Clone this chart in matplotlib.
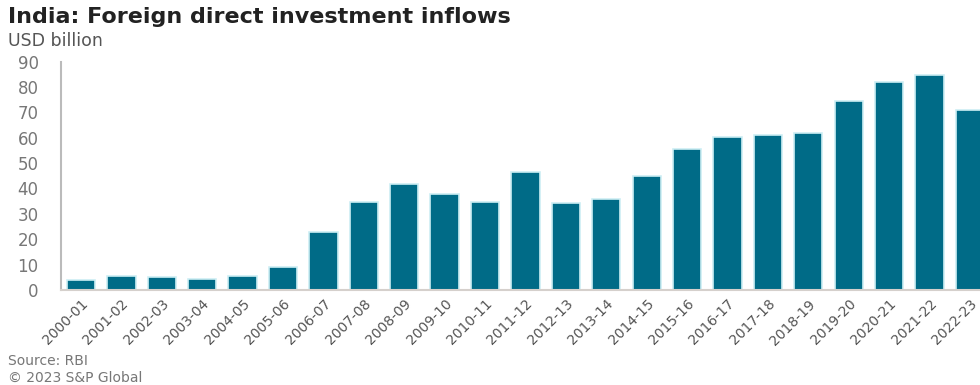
import matplotlib.pyplot as plt
import numpy as np

# Entradas de IED en India por año fiscal (miles de millones de USD)
anios = ['2000-01', '2001-02', '2002-03', '2003-04', '2004-05', '2005-06',
         '2006-07', '2007-08', '2008-09', '2009-10', '2010-11', '2011-12',
         '2012-13', '2013-14', '2014-15', '2015-16', '2016-17', '2017-18',
         '2018-19', '2019-20', '2020-21', '2021-22', '2022-23']
ied = [4.0, 5.5, 5.0, 4.3, 5.5, 9.0, 22.8, 34.8, 41.9, 37.7, 34.8, 46.6,
       34.3, 36.0, 45.0, 55.6, 60.2, 61.0, 62.0, 74.4, 82.0, 84.8, 71.0]
ticks_y = [0, 10, 20, 30, 40, 50, 60, 70, 80, 90]

color_barra = '#006b87'
gris = '#777777'

fig = plt.figure(figsize=(9.8, 3.85), dpi=100)
ax = fig.add_axes([0.062, 0.247, 0.938, 0.593])

x = np.arange(len(anios))
ax.bar(x, ied, width=0.7, color=color_barra, edgecolor='#cdeef4', linewidth=1.2)

ax.set_xlim(-0.5, 22.25)
ax.set_ylim(0, 90)
ax.set_yticks(ticks_y)
ax.set_yticklabels([str(t) for t in ticks_y], fontsize=12, color=gris)
ax.set_xticks(x)
ax.set_xticklabels(anios, rotation=45, ha='right', rotation_mode='anchor',
                   fontsize=10, color='#555555')
ax.tick_params(axis='y', length=0, pad=16)
ax.tick_params(axis='x', length=0, pad=5)

for lado in ['top', 'right']:
    ax.spines[lado].set_visible(False)
ax.spines['left'].set_color('#bbbbbb')
ax.spines['left'].set_linewidth(1.5)
ax.spines['bottom'].set_color('#d5d0cc')
ax.spines['bottom'].set_linewidth(1.5)

# Títulos y notas
fig.text(0.008, 0.955, 'India: Foreign direct investment inflows', fontsize=16,
         fontweight='bold', color='#222222', va='center')
fig.text(0.008, 0.893, 'USD billion', fontsize=12.5, color='#555555', va='center')
fig.text(0.008, 0.062, 'Source: RBI', fontsize=10, color=gris, va='center')
fig.text(0.008, 0.018, '© 2023 S&P Global', fontsize=10, color=gris, va='center')

plt.savefig('out.png', dpi=100)
